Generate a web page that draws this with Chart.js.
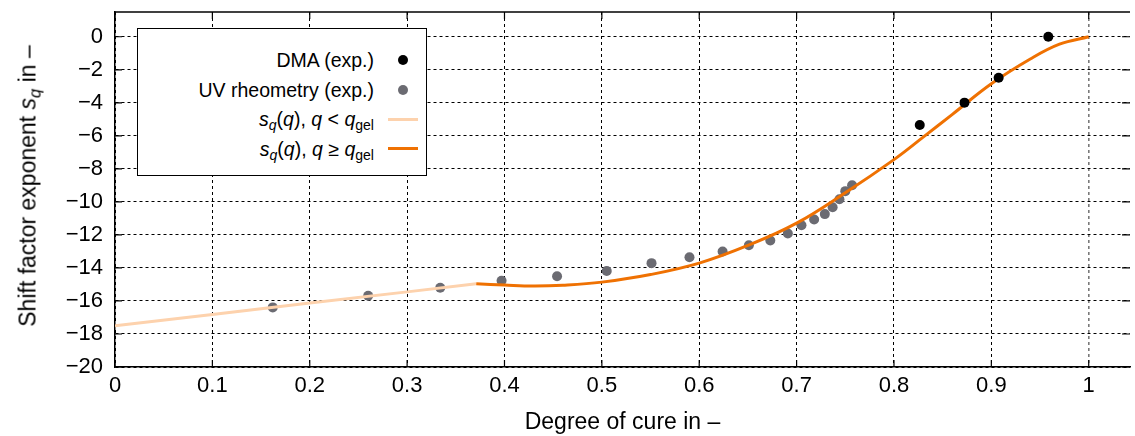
<!DOCTYPE html>
<html>
<head>
<meta charset="utf-8">
<script src="https://cdn.jsdelivr.net/npm/chart.js@4/dist/chart.umd.min.js"></script>
<style>
  html, body { margin: 0; padding: 0; background: #fff; }
  #wrap { position: relative; width: 1135px; height: 436px; font-family: "Liberation Sans", Arial, sans-serif; }
  #ytitle {
    position: absolute; left: 28px; top: 186px; white-space: nowrap;
    font-size: 23px; color: #000;
    transform: translate(-50%, -50%) rotate(-90deg);
  }
  #legend {
    position: absolute; left: 137px; top: 28px; width: 290px; height: 148px;
    border: 1.5px solid #000; background: #fff; box-sizing: border-box;
  }
  .row { position: absolute; left: 0; width: 100%; height: 30px; font-size: 19.5px; }
  .row .txt { position: absolute; right: 52px; top: 50%; transform: translateY(-50%); white-space: nowrap; }
  .row .mk { position: absolute; top: 50%; }
  sub { font-size: 0.72em; vertical-align: -0.3em; line-height: 0; }
</style>
</head>
<body>
<div id="wrap">
  <canvas id="chart" width="1135" height="436"></canvas>
  <div id="ytitle">Shift factor exponent <i>s</i><sub><i>q</i></sub> in –</div>
  <div id="legend"></div>
</div>
<script>
// DMA measurements
const dmaX = [0.8265, 0.8724, 0.9075, 0.9585]
const dmaY = [-5.34, -3.99, -2.48, 0.0]

// UV rheometry measurements
const uvX = [0.162, 0.260, 0.334, 0.397, 0.454, 0.505, 0.551, 0.590, 0.624, 0.651, 0.673,
  0.691, 0.705, 0.718, 0.729, 0.737, 0.744, 0.750, 0.757]
const uvY = [-16.39, -15.68, -15.20, -14.78, -14.50, -14.19, -13.71, -13.35, -13.00, -12.63, -12.34,
  -11.92, -11.41, -11.07, -10.74, -10.32, -9.84, -9.35, -8.99]

// model below the gel point
const preGelX = [0.0, 0.1, 0.2, 0.3, 0.371]
const preGelY = [-17.5, -16.82, -16.13, -15.45, -14.96]

// model above the gel point
const postGelX = [0.371, 0.40, 0.43, 0.46, 0.50, 0.55, 0.60, 0.65, 0.70, 0.75,
  0.80, 0.83, 0.86, 0.90, 0.94, 0.97, 1.0]
const postGelY = [-14.96, -15.04, -15.10, -15.05, -14.86, -14.40, -13.71, -12.64, -11.29, -9.45,
  -7.44, -6.08, -4.70, -2.85, -1.35, -0.45, 0.0]

const xTicks = [0, 0.1, 0.2, 0.3, 0.4, 0.5, 0.6, 0.7, 0.8, 0.9, 1]
const yTicks = [-20, -18, -16, -14, -12, -10, -8, -6, -4, -2, 0]

const colDMA = "#000000"
const colUV = "#6b6b72"
const colPre = "#fdd2ad"
const colPost = "#ef7102"

const pts = (xs, ys) => xs.map((x, i) => ({ x: x, y: ys[i] }))

// frame: top border and inward ticks like the original plot
const framePlugin = {
  id: "frame",
  afterDatasetsDraw(chart) {
    const { ctx, chartArea: a, scales } = chart
    ctx.save()
    ctx.strokeStyle = "#000"
    ctx.lineWidth = 1.5
    ctx.beginPath()
    ctx.moveTo(a.left, a.top)
    ctx.lineTo(a.right, a.top)
    ctx.stroke()
    ctx.lineWidth = 1.2
    ctx.beginPath()
    for (const t of xTicks) {
      const px = scales.x.getPixelForValue(t)
      ctx.moveTo(px, a.top); ctx.lineTo(px, a.top + 7)
      ctx.moveTo(px, a.bottom); ctx.lineTo(px, a.bottom - 7)
    }
    for (const t of yTicks) {
      const py = scales.y.getPixelForValue(t)
      ctx.moveTo(a.left, py); ctx.lineTo(a.left + 7, py)
      ctx.moveTo(a.right, py); ctx.lineTo(a.right - 8, py)
    }
    ctx.stroke()
    ctx.restore()
  }
}

const font = { family: "'Liberation Sans', Arial, sans-serif", size: 22 }

new Chart(document.getElementById("chart"), {
  type: "scatter",
  data: {
    datasets: [
      { label: "DMA (exp.)", data: pts(dmaX, dmaY), backgroundColor: colDMA, borderColor: colDMA,
        pointRadius: 5, borderWidth: 0, order: 0 },
      { label: "post", data: pts(postGelX, postGelY), showLine: true, borderColor: colPost,
        borderWidth: 3, pointRadius: 0, tension: 0.4, order: 1 },
      { label: "pre", data: pts(preGelX, preGelY), showLine: true, borderColor: colPre,
        borderWidth: 3, pointRadius: 0, order: 2 },
      { label: "UV rheometry (exp.)", data: pts(uvX, uvY), backgroundColor: colUV, borderColor: colUV,
        pointRadius: 5, borderWidth: 0, order: 3 },
    ],
  },
  options: {
    responsive: false,
    animation: false,
    layout: { padding: { top: 12, right: 0, left: 0, bottom: 0 } },
    plugins: { legend: { display: false }, tooltip: { enabled: false } },
    scales: {
      x: {
        type: "linear", min: 0, max: 1.0424,
        afterFit: (s) => { s.height = 69; s.paddingLeft = 0; s.paddingRight = 0 },
        afterBuildTicks: (s) => { s.ticks = xTicks.map(v => ({ value: v })) },
        ticks: { color: "#000", font: font, padding: 6, callback: (v) => String(v) },
        grid: {
          drawTicks: false,
          color: (c) => c.tick && c.tick.value === 1 ? "#7a7a7a" : "#000",
          lineWidth: (c) => c.tick && c.tick.value === 1 ? 1.6 : 1,
        },
        border: { display: true, color: "#000", width: 1.5, dash: [3, 3] },
        title: { display: true, text: "Degree of cure in –", color: "#000", font: { family: font.family, size: 23 }, padding: { top: 4, bottom: 0 } },
      },
      y: {
        type: "linear", min: -20, max: 1.5,
        afterFit: (s) => { s.width = 115; s.paddingTop = 0; s.paddingBottom = 0 },
        afterBuildTicks: (s) => { s.ticks = yTicks.map(v => ({ value: v })) },
        ticks: { color: "#000", font: font, padding: 12, callback: (v) => String(v).replace("-", "\u2212") },
        grid: { drawTicks: false, color: "#000", lineWidth: 1 },
        border: { display: true, color: "#000", width: 1.5, dash: [3, 3] },
      },
    },
  },
  plugins: [framePlugin],
})

// legend with italic/subscript labels
const legendItems = [
  { html: "DMA (exp.)", kind: "dot", color: colDMA },
  { html: "UV rheometry (exp.)", kind: "dot", color: colUV },
  { html: "<i>s</i><sub><i>q</i></sub>(<i>q</i>), <i>q</i> &lt; <i>q</i><sub>gel</sub>", kind: "line", color: colPre },
  { html: "<i>s</i><sub><i>q</i></sub>(<i>q</i>), <i>q</i> ≥ <i>q</i><sub>gel</sub>", kind: "line", color: colPost },
]
const legend = document.getElementById("legend")
legendItems.forEach((it, i) => {
  const row = document.createElement("div")
  row.className = "row"
  row.style.top = (16 + i * 29.5) + "px"
  const mk = it.kind === "dot"
    ? `<span class="mk" style="left:260px;width:10px;height:10px;margin-top:-5px;border-radius:50%;background:${it.color}"></span>`
    : `<span class="mk" style="left:250px;width:30px;height:3px;margin-top:-1.5px;background:${it.color}"></span>`
  row.innerHTML = `<span class="txt">${it.html}</span>${mk}`
  legend.appendChild(row)
})
</script>
</body>
</html>
